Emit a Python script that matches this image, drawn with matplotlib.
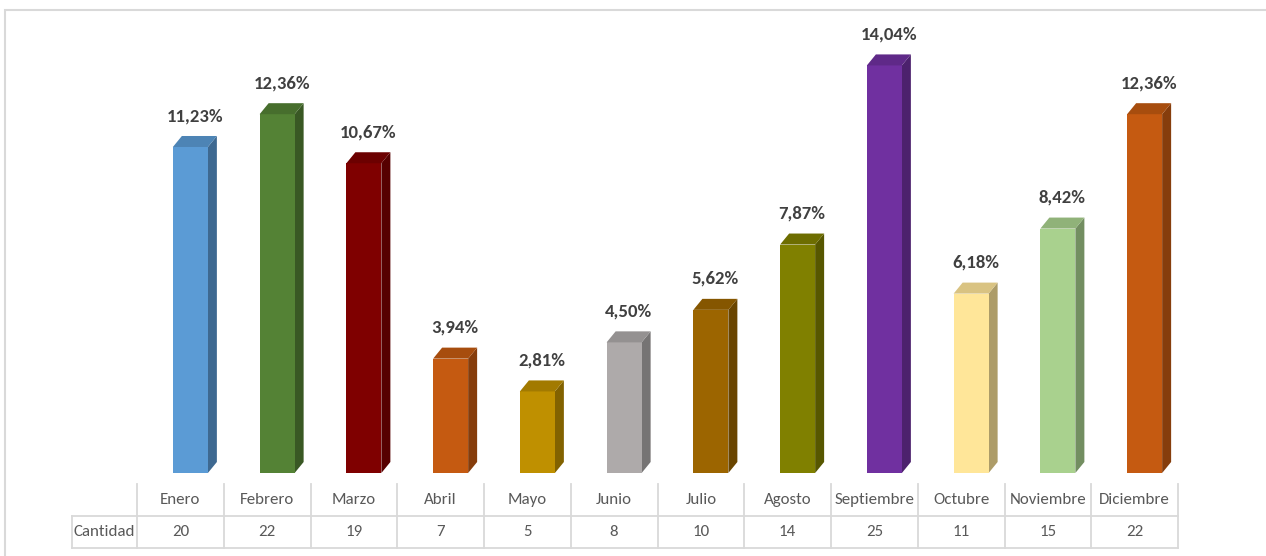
import matplotlib
matplotlib.use("Agg")
import matplotlib.pyplot as plt
from matplotlib.patches import Polygon, Rectangle
from matplotlib.colors import to_rgb
import numpy as np

months = ["Enero", "Febrero", "Marzo", "Abril", "Mayo", "Junio", "Julio",
          "Agosto", "Septiembre", "Octubre", "Noviembre", "Diciembre"]
percent = [11.23, 12.36, 10.67, 3.94, 2.81, 4.50, 5.62, 7.87, 14.04, 6.18, 8.42, 12.36]
cantidad = [20, 22, 19, 7, 5, 8, 10, 14, 25, 11, 15, 22]
row_label = "Cantidad"
colors = ["#5B9BD5", "#548235", "#7F0000", "#C55A11", "#BF9000", "#AEAAAA",
          "#9C6500", "#808000", "#7030A0", "#FFE699", "#A9D18E", "#C55A11"]

W, H = 1266, 556
fig = plt.figure(figsize=(W / 100, H / 100), dpi=100)
fig.patch.set_facecolor("white")

FONT = ["Carlito", "DejaVu Sans"]

# chart border (light gray, runs off right/bottom edges)
fig.add_artist(Rectangle((5 / W, -0.1), 1.2, (H - 10) / H + 0.1,
                         transform=fig.transFigure, fill=False,
                         edgecolor="#D9D9D9", linewidth=1.5))

# main axes
ax_l, ax_r, ax_b, ax_t = 137, 1178, 473, 10
ax = fig.add_axes([ax_l / W, (H - ax_b) / H, (ax_r - ax_l) / W, (ax_b - ax_t) / H])
ax.set_xlim(-0.5, 11.5)
ppu_y = 29.03
ax.set_ylim(0, (ax_b - ax_t) / ppu_y)
ax.axis("off")

ppu_x = (ax_r - ax_l) / 12.0
dx = 9 / ppu_x
dy = 11 / ppu_y
bw = 35 / ppu_x
shift = 10 / ppu_x

def shade(c, f):
    r, g, b = to_rgb(c)
    return (r * f, g * f, b * f)

x = np.arange(len(months))
xc = x + shift
ax.bar(xc, percent, width=bw, color=colors, edgecolor="none", zorder=3)
for xi, v, c in zip(xc, percent, colors):
    l, r = xi - bw / 2, xi + bw / 2
    side = Polygon([(r, 0), (r + dx, dy), (r + dx, v + dy), (r, v)],
                   closed=True, facecolor=shade(c, 0.68), edgecolor="none", zorder=2)
    top = Polygon([(l, v), (r, v), (r + dx, v + dy), (l + dx, v + dy)],
                  closed=True, facecolor=shade(c, 0.85), edgecolor="none", zorder=4)
    ax.add_patch(side)
    ax.add_patch(top)
    ax.annotate(f"{v:.2f}".replace(".", ",") + "%", (xi + dx / 2, v),
                xytext=(0, 16.5), textcoords="offset points", ha="center", va="bottom",
                fontsize=13.5, fontweight="bold", color="#404040", family=FONT)

# data table
tb_t, tb_b = 484, 548
tax = fig.add_axes([ax_l / W, (H - tb_b) / H, (ax_r - ax_l) / W, (tb_b - tb_t) / H])
tax.set_xlim(-0.5, 11.5)
tax.set_ylim(0, 2)
tax.axis("off")
gc = "#D9D9D9"
lw = 1.3
lab_left = -0.5 - (ax_l - 72) / ppu_x
for b in np.arange(-0.5, 12.0, 1.0):
    tax.plot([b, b], [0, 2], color=gc, lw=lw, clip_on=False)
tax.plot([lab_left, lab_left], [0, 1], color=gc, lw=lw, clip_on=False)
for yy in (0, 1):
    tax.plot([lab_left, 11.5], [yy, yy], color=gc, lw=lw, clip_on=False)
for xi, m, n in zip(x, months, cantidad):
    tax.text(xi, 1.5, m, ha="center", va="center", fontsize=12.2, color="#595959", family=FONT)
    tax.text(xi, 0.5, str(n), ha="center", va="center", fontsize=12.2, color="#595959", family=FONT)
tax.text((lab_left - 0.5) / 2, 0.5, row_label, ha="center", va="center", fontsize=12.2,
         color="#595959", family=FONT, clip_on=False)

fig.savefig("out.png", dpi=100, facecolor="white")
